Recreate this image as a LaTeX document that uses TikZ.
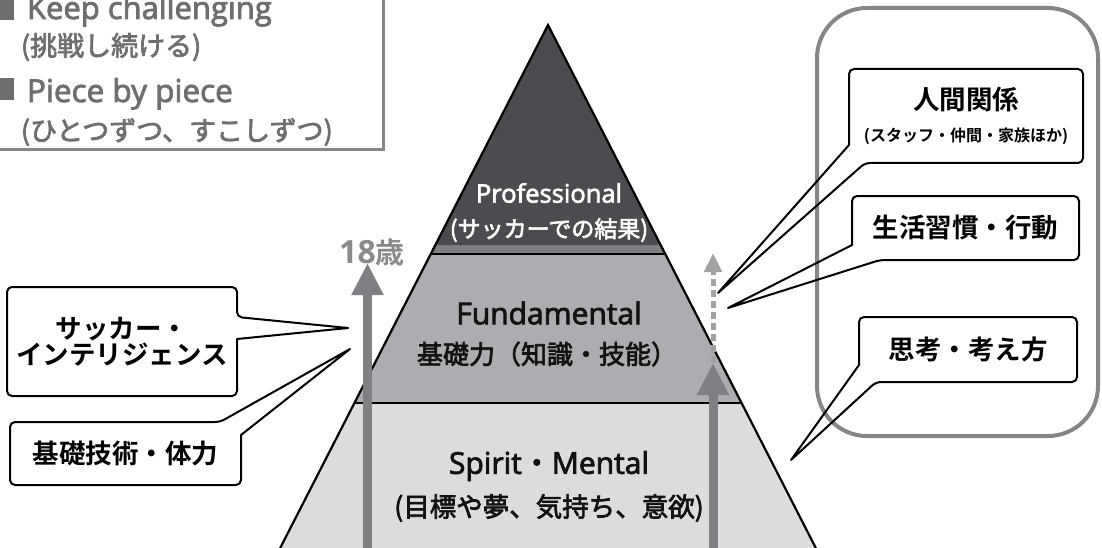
\documentclass[tikz,border=0pt]{standalone}
\usepackage{fontspec}
\setmainfont{Open Sans}
\newfontfamily\lat{Open Sans}
\newfontfamily\latm{Open Sans}[FakeBold=2.6]
\newfontfamily\cjk{Noto Sans CJK JP}[BoldFont={* Bold}]
\newfontfamily\cjkm{Noto Sans CJK JP}[FakeBold=2.6]
\usetikzlibrary{arrows.meta,calc}
\definecolor{topdark}{HTML}{4B4C50}
\definecolor{bandgray}{HTML}{7E7F83}
\definecolor{midgray}{HTML}{ACADB1}
\definecolor{lowgray}{HTML}{DCDCDC}
\definecolor{arrowgray}{HTML}{808084}
\definecolor{dashgray}{HTML}{A2A2A4}
\definecolor{graytxt}{HTML}{6E6E70}
\definecolor{frameline}{HTML}{868688}
\definecolor{agegray}{HTML}{8A8A8C}
\newcommand\myfs[1]{\fontsize{#1}{#1}\selectfont}
\tikzset{
  txt/.style={inner sep=0pt, outer sep=0pt},
  graytext/.style={txt, text=graytxt},
  boxnode/.style={inner sep=0pt, outer sep=0pt, align=center, font=\cjk\bfseries\myfs{26.5}},
  boxline/.style={draw=black, line width=2pt, line join=round},
  bigarrow/.style={draw=arrowgray, line width=9pt, -{Triangle[length=32pt, width=30pt]}},
  dasharrow/.style={draw=dashgray, line width=5pt, dash pattern=on 7pt off 4pt, -{Triangle[length=19pt, width=17pt]}},
}
\begin{document}
\begin{tikzpicture}[x=1pt,y=-1pt]
\useasboundingbox (0,0) rectangle (1102,548);
\clip (0,0) rectangle (1102,548);

% ---------- top-left frame ----------
\node[draw=frameline, line width=3pt, minimum width=393pt, minimum height=160pt, inner sep=0pt] (tlbox) at (186.5,70) {};
\fill[graytxt] (-8,-2) rectangle (14,20);
\fill[graytxt] (-8,78) rectangle (14,100);
\node[graytext, anchor=base west] (k1) at (27,19) {\latm\myfs{31}Keep challenging};
\node[graytext, anchor=west] (k2) at (21,47) {\cjkm\myfs{27}(挑戦し続ける)};
\node[graytext, anchor=base west] (k3) at (27,102) {\latm\myfs{31.5}Piece by piece};
\node[graytext, anchor=west] (k4) at (21,132) {\cjkm\myfs{27}(ひとつずつ、すこしずつ)};

% ---------- pyramid ----------
\fill[lowgray] (280.2,548) -- (354.5,403) -- (741.5,403) -- (815.8,548) -- cycle;
\fill[midgray] (354.5,403) -- (430.8,254) -- (665.2,254) -- (741.5,403) -- cycle;
\fill[bandgray] (430.8,254) -- (435.4,245) -- (660.6,245) -- (665.2,254) -- cycle;
\fill[topdark] (435.4,245) -- (548,25) -- (660.6,245) -- cycle;
\draw[black, line width=1.6pt] (354.5,403) -- (741.5,403);
\draw[black, line width=1.4pt] (430.8,254) -- (665.2,254);
\draw[black, line width=2.2pt, line join=miter] (280.2,548) -- (548,25) -- (815.8,548);

% ---------- arrows ----------
\coordinate (la0) at (367.5,552);
\coordinate (la1) at (367.5,263);
\draw[bigarrow] (la0) -- (la1);
\coordinate (ra0) at (713,552);
\coordinate (ra1) at (713,363);
\coordinate (ra2) at (713,253);
\draw[dasharrow] (ra1) -- (ra2);
\draw[bigarrow] (ra0) -- (ra1);

\node[txt, anchor=base, text=agegray] (age) at (372,263) {\lat\bfseries\myfs{32}18{\cjk\bfseries\myfs{29}歳}};

% ---------- pyramid labels ----------
\node[txt, text=white] (prof) at (549,193) {\latm\myfs{25.5}Professional};
\node[txt, text=white] (profj) at (549,230) {\cjkm\myfs{23}(サッカーでの結果)};
\node[txt, text=black!93] (fund) at (549,313) {\latm\myfs{30}Fundamental};
\node[txt, text=black!93] (fundj) at (547,354) {\cjkm\myfs{26}基礎力（知識・技能）};
\node[txt, text=black!93] (spir) at (549,466) {\latm\myfs{30}Spirit{\cjkm ・}Mental};
\node[txt, text=black!93] (spirj) at (549,508) {\cjkm\myfs{26.5}(目標や夢、気持ち、意欲)};

% ---------- big rounded frame ----------
\node[draw=frameline, line width=4pt, rounded corners=50pt, minimum width=281pt, minimum height=428pt, inner sep=0pt] (frame) at (957.5,222) {};

% ---------- callout boxes ----------
\node[boxnode, minimum width=230pt, minimum height=109pt] (L1) at (122,341.5)
  {\baselineskip=38pt サッカー・\\インテリジェンス};
\coordinate (t1) at (348,328);
\draw[boxline] (L1.west) [rounded corners=5pt] -- (L1.north west) -- (L1.north east)
  -- ($(L1.north east)+(0,30)$) [sharp corners] -- (t1) -- ($(L1.north east)+(0,52)$)
  [rounded corners=5pt] -- (L1.south east) -- (L1.south west) -- cycle;

\node[boxnode, minimum width=231pt, minimum height=63pt] (L2) at (125.5,453.5) {基礎技術・体力};
\coordinate (t2) at (350,349);
\draw[boxline] (L2.west) [rounded corners=5pt] -- (L2.north west)
  -- ($(L2.north east)+(-21,0)$) [sharp corners] -- (t2) -- ($(L2.north east)+(0,13)$)
  [rounded corners=5pt] -- (L2.south east) -- (L2.south west) -- cycle;

\node[boxnode, minimum width=234pt, minimum height=94pt] (R1) at (966,116)
  {人間関係\\[6pt]{\myfs{16}(スタッフ・仲間・家族ほか)}};
\coordinate (t3) at (718,293);
\draw[boxline] (R1.north) [rounded corners=5pt] -- (R1.north east) -- (R1.south east)
  -- ($(R1.south west)+(16,0)$) [sharp corners] -- (t3) -- ($(R1.south west)+(0,-18)$)
  [rounded corners=5pt] -- (R1.north west) -- cycle;

\node[boxnode, minimum width=227pt, minimum height=64pt] (R2) at (965.5,228) {生活習慣・行動};
\coordinate (t4) at (728,308);
\draw[boxline] (R2.north) [rounded corners=5pt] -- (R2.north east) -- (R2.south east)
  -- ($(R2.south west)+(28,0)$) [sharp corners] -- (t4) -- ($(R2.south west)+(0,-15)$)
  [rounded corners=5pt] -- (R2.north west) -- cycle;

\node[boxnode, minimum width=218pt, minimum height=65pt] (R3) at (968,349.5) {思考・考え方};
\coordinate (t5) at (791,460);
\draw[boxline] (R3.north) [rounded corners=5pt] -- (R3.north east) -- (R3.south east)
  -- ($(R3.south west)+(17,0)$) [sharp corners] -- (t5) -- ($(R3.south west)+(0,-17)$)
  [rounded corners=5pt] -- (R3.north west) -- cycle;
\end{tikzpicture}
\end{document}
